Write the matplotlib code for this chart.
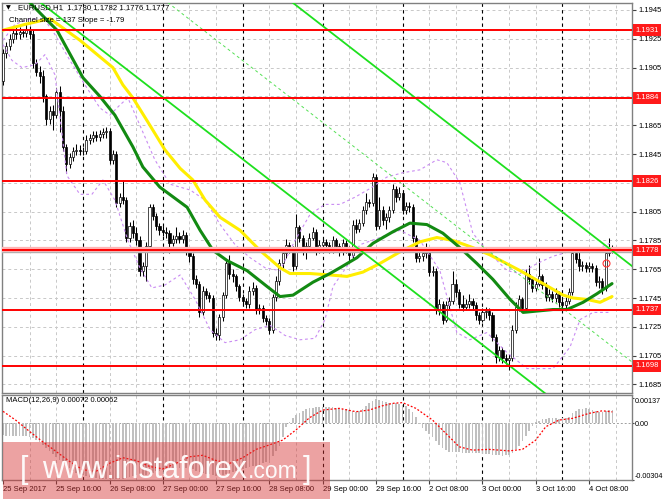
import matplotlib
matplotlib.use("Agg")
import matplotlib.pyplot as plt
from matplotlib.patches import Rectangle
import matplotlib.transforms as mtransforms

plt.rcParams['font.family'] = ['Liberation Sans', 'DejaVu Sans']

# ---- hourly candles, EURUSD H1, bar 0 = 25 Sep 00:00 ----
first_open = 1.1896
closes = [
    1.1915, 1.1920, 1.1925, 1.1929, 1.1928, 1.1930, 1.1929, 1.1931, 1.1928, 1.1908,
    1.1902, 1.1899, 1.1885, 1.1869, 1.1875, 1.1872, 1.1888, 1.1875, 1.1850, 1.1838,
    1.1843, 1.1847, 1.1848, 1.1847, 1.1847, 1.1855, 1.1856, 1.1858, 1.1857, 1.1859,
    1.1860, 1.1861, 1.1841, 1.1845, 1.1811, 1.1815, 1.1813, 1.1787, 1.1795, 1.1790,
    1.1785, 1.1764, 1.1767, 1.1781, 1.1808, 1.1802, 1.1795, 1.1792, 1.1791, 1.1790,
    1.1783, 1.1786, 1.1788, 1.1786, 1.1789, 1.1778, 1.1774, 1.1758, 1.1755, 1.1735,
    1.1750, 1.1747, 1.1745, 1.1721, 1.1719, 1.1732, 1.1747, 1.1769, 1.1762, 1.1760,
    1.1753, 1.1746, 1.1743, 1.1741, 1.1750, 1.1752, 1.1737, 1.1738, 1.1731, 1.1729,
    1.1723, 1.1746, 1.1757, 1.1769, 1.1776, 1.1782, 1.1779, 1.1767, 1.1794, 1.1787,
    1.1778, 1.1781, 1.1787, 1.1791, 1.1778, 1.1782, 1.1784, 1.1782, 1.1779, 1.1785,
    1.1781, 1.1777, 1.1783, 1.1779, 1.1775, 1.1796, 1.1793, 1.1797, 1.1806, 1.1812,
    1.1811, 1.1829, 1.1795, 1.1806, 1.1799, 1.1801, 1.1806, 1.1821, 1.1815, 1.1818,
    1.1806, 1.1809, 1.1808, 1.1787, 1.1773, 1.1774, 1.1776, 1.1777, 1.1763, 1.1764,
    1.1737, 1.1741, 1.1730, 1.1740, 1.1743, 1.1755, 1.1749, 1.1741, 1.1739, 1.1741,
    1.1743, 1.1740, 1.1733, 1.1730, 1.1735, 1.1736, 1.1733, 1.1718, 1.1704, 1.1709,
    1.1703, 1.1702, 1.1703, 1.1723, 1.1739, 1.1744, 1.1738, 1.1762, 1.1758, 1.1752,
    1.1755, 1.1760, 1.1754, 1.1746, 1.1748, 1.1745, 1.1748, 1.1742, 1.1740, 1.1743,
    1.1749, 1.1776, 1.1772, 1.1767, 1.1768, 1.1766, 1.1767, 1.1766, 1.1756, 1.1757,
    1.1752, 1.1776, 1.1780, 1.1777,
]
highs = [
    1.1918, 1.1923, 1.1928, 1.1932, 1.1933, 1.1933, 1.1932, 1.1936, 1.1934, 1.1931,
    1.1911, 1.1906, 1.1903, 1.1887, 1.1878, 1.1879, 1.1891, 1.1892, 1.1878, 1.1852,
    1.1846, 1.1850, 1.1852, 1.1851, 1.1850, 1.1858, 1.1859, 1.1861, 1.1861, 1.1862,
    1.1863, 1.1864, 1.1863, 1.1848, 1.1847, 1.1818, 1.1827, 1.1815, 1.1798, 1.1799,
    1.1794, 1.1788, 1.1770, 1.1784, 1.1810, 1.1810, 1.1804, 1.1797, 1.1795, 1.1794,
    1.1792, 1.1789, 1.1794, 1.1791, 1.1792, 1.1791, 1.1780, 1.1776, 1.1761, 1.1757,
    1.1753, 1.1752, 1.1749, 1.1747, 1.1724, 1.1734, 1.1749, 1.1772, 1.1775, 1.1765,
    1.1762, 1.1755, 1.1748, 1.1745, 1.1753, 1.1756, 1.1754, 1.1741, 1.1740, 1.1733,
    1.1731, 1.1748, 1.1760, 1.1772, 1.1779, 1.1786, 1.1784, 1.1781, 1.1803, 1.1796,
    1.1789, 1.1784, 1.1790, 1.1794, 1.1793, 1.1785, 1.1787, 1.1786, 1.1784, 1.1788,
    1.1787, 1.1783, 1.1786, 1.1785, 1.1781, 1.1799, 1.1800, 1.1800, 1.1809, 1.1818,
    1.1814, 1.1832, 1.1831, 1.1815, 1.1809, 1.1804, 1.1809, 1.1824, 1.1823, 1.1822,
    1.1820, 1.1812, 1.1812, 1.1810, 1.1789, 1.1777, 1.1779, 1.1783, 1.1779, 1.1767,
    1.1766, 1.1744, 1.1743, 1.1743, 1.1746, 1.1764, 1.1758, 1.1751, 1.1747, 1.1744,
    1.1748, 1.1745, 1.1742, 1.1735, 1.1738, 1.1739, 1.1738, 1.1735, 1.1720, 1.1712,
    1.1711, 1.1706, 1.1706, 1.1726, 1.1742, 1.1747, 1.1746, 1.1765, 1.1768, 1.1760,
    1.1758, 1.1773, 1.1762, 1.1756, 1.1751, 1.1750, 1.1752, 1.1750, 1.1744, 1.1746,
    1.1752, 1.1779, 1.1779, 1.1779, 1.1771, 1.1770, 1.1770, 1.1769, 1.1768, 1.1760,
    1.1759, 1.1779, 1.1787, 1.1782,
]
lows = [
    1.1893, 1.1912, 1.1917, 1.1922, 1.1925, 1.1925, 1.1926, 1.1926, 1.1925, 1.1905,
    1.1899, 1.1894, 1.1881, 1.1865, 1.1866, 1.1862, 1.1870, 1.1860, 1.1847, 1.1832,
    1.1835, 1.1840, 1.1844, 1.1844, 1.1844, 1.1845, 1.1852, 1.1853, 1.1854, 1.1854,
    1.1856, 1.1856, 1.1838, 1.1838, 1.1808, 1.1808, 1.1810, 1.1784, 1.1784, 1.1787,
    1.1782, 1.1760, 1.1760, 1.1757, 1.1779, 1.1799, 1.1792, 1.1789, 1.1788, 1.1787,
    1.1776, 1.1781, 1.1783, 1.1783, 1.1783, 1.1775, 1.1770, 1.1755, 1.1752, 1.1732,
    1.1733, 1.1744, 1.1742, 1.1718, 1.1716, 1.1716, 1.1729, 1.1745, 1.1758, 1.1756,
    1.1750, 1.1743, 1.1740, 1.1738, 1.1738, 1.1747, 1.1734, 1.1734, 1.1728, 1.1726,
    1.1720, 1.1721, 1.1743, 1.1754, 1.1766, 1.1773, 1.1776, 1.1764, 1.1765, 1.1784,
    1.1775, 1.1772, 1.1779, 1.1785, 1.1775, 1.1776, 1.1780, 1.1779, 1.1776, 1.1776,
    1.1778, 1.1774, 1.1775, 1.1776, 1.1771, 1.1773, 1.1790, 1.1791, 1.1795, 1.1803,
    1.1808, 1.1809, 1.1792, 1.1793, 1.1796, 1.1793, 1.1798, 1.1804, 1.1812, 1.1813,
    1.1803, 1.1803, 1.1805, 1.1784, 1.1770, 1.1770, 1.1771, 1.1773, 1.1760, 1.1760,
    1.1734, 1.1733, 1.1727, 1.1728, 1.1737, 1.1741, 1.1746, 1.1738, 1.1736, 1.1737,
    1.1738, 1.1737, 1.1730, 1.1727, 1.1728, 1.1731, 1.1730, 1.1715, 1.1700, 1.1701,
    1.1700, 1.1699, 1.1695, 1.1701, 1.1721, 1.1736, 1.1735, 1.1736, 1.1755, 1.1749,
    1.1750, 1.1753, 1.1751, 1.1743, 1.1743, 1.1742, 1.1742, 1.1739, 1.1737, 1.1737,
    1.1741, 1.1747, 1.1769, 1.1764, 1.1764, 1.1763, 1.1763, 1.1763, 1.1753, 1.1752,
    1.1748, 1.1750, 1.1774, 1.1776,
]

# ---- MACD(12,26,9): histogram per bar (x1e-5) and signal points ----
macd_e5 = [
    -65, -66, -67, -68, -68, -68, -69, -70, -72, -80,
    -90, -100, -115, -135, -150, -165, -180, -195, -210, -225,
    -240, -255, -265, -272, -278, -283, -288, -292, -295, -298,
    -300, -302, -300, -298, -300, -302, -300, -295, -290, -285,
    -280, -278, -282, -280, -272, -265, -258, -255, -252, -250,
    -248, -245, -243, -242, -240, -240, -242, -248, -255, -262,
    -268, -272, -275, -280, -285, -285, -280, -272, -265, -260,
    -255, -250, -245, -240, -235, -230, -228, -222, -216, -210,
    -195, -175, -150, -120, -72, -18, 9, 30, 45, 55,
    65, 75, 81, 85, 88, 90, 90, 88, 86, 86,
    85, 83, 80, 76, 70, 66, 63, 66, 80, 95,
    108, 120, 130, 125, 118, 115, 112, 110, 108, 105,
    100, 95, 80, 60, 35, -5, -25, -40, -55, -72,
    -95, -115, -130, -145, -153, -155, -155, -156, -157, -158,
    -158, -158, -160, -162, -163, -165, -166, -168, -170, -172,
    -173, -172, -170, -160, -140, -120, -95, -70, -40, -15,
    5, 15, 22, 26, 27, 28, 27, 26, 27, 30,
    36, 55, 65, 75, 80, 85, 80, 72, 65, 60,
    62, 66, 70, 72,
]
signal_bars = [0, 4, 8, 12, 16, 20, 24, 28, 32, 36, 40, 44, 48, 52, 56, 60, 64, 68,
               72, 76, 80, 84, 88, 92, 96, 101, 106, 110, 114, 117, 120, 124, 129,
               133, 137, 141, 146, 152, 156, 160, 163, 167, 171, 176, 180, 183]
signal_e5 = [65, 15, -44, -100, -152, -205, -250, -258, -215, -185, -200, -232, -245,
             -215, -180, -172, -200, -216, -185, -140, -116, -90, -35, 30, 72, 81, 63,
             72, 95, 108, 112, 81, 18, -54, -126, -144, -140, -148, -140, -90, -18,
             18, 27, 54, 68, 62]

# ---- moving averages (bar, price) ----
ma_slow_bars = [0, 6.6, 14.1, 23.1, 33, 36, 39, 44.1, 48.6, 53.2, 57, 60.7, 65.2, 71.2,
                77.2, 83.2, 86.2, 92.2, 98.2, 103.3, 108.1, 113.2, 119.2, 125.2, 130.3,
                135.1, 141.1, 146.2, 155.3, 162.2, 168.2, 171.2, 175.4, 179.3, 182.9]
ma_slow = [1.1931, 1.1935, 1.1939, 1.1924, 1.1905, 1.1893, 1.1884, 1.1865, 1.1848,
           1.1835, 1.1827, 1.1813, 1.1801, 1.1792, 1.1778, 1.1766, 1.1762, 1.1762,
           1.1761, 1.1760, 1.1763, 1.1769, 1.1777, 1.1784, 1.1787, 1.1785, 1.1780,
           1.1775, 1.1764, 1.1755, 1.1747, 1.1745, 1.1744, 1.1742, 1.1746]
ma_fast_bars = [8.1, 16.2, 24, 29.1, 33.6, 39, 42, 47.1, 55.3, 59.2, 63.1, 67.3, 73.3,
                79.3, 83.2, 87.1, 93.1, 98.2, 101.2, 106.3, 111.1, 117.1, 122.2, 127.3,
                132.1, 137.2, 142.3, 147.1, 152.3, 156.2, 165.2, 169.4, 174.2, 178.4, 182.9]
ma_fast = [1.1950, 1.1931, 1.1898, 1.1885, 1.1872, 1.1850, 1.1836, 1.1822, 1.1808,
           1.1792, 1.1778, 1.1771, 1.1764, 1.1753, 1.1746, 1.1747, 1.1756, 1.1762,
           1.1766, 1.1773, 1.1783, 1.1791, 1.1797, 1.1796, 1.1790, 1.1780, 1.1769,
           1.1758, 1.1744, 1.1735, 1.1737, 1.1737, 1.1742, 1.1748, 1.1755]

# ---- bands (purple dashed) ----
band_up_bars = [0, 3.6, 8.1, 12.6, 15.6, 20.1, 24.6, 29.1, 32.1, 35.1, 37.5, 41.1, 45.6,
                50.2, 56.2, 60.7, 65.2, 69.7, 74.2, 78.7, 83.2, 87.7, 92.2, 96.7, 101.2,
                105.7, 110.2, 115.3, 120.1, 125.2, 130.3, 133.3, 137.2, 141.1, 145.3,
                151.4, 155.3, 160.4, 165.2, 171.2, 177.2, 182.3]
band_up = [1.1924, 1.1935, 1.1939, 1.1938, 1.1928, 1.1910, 1.1893, 1.1877, 1.1872,
           1.1879, 1.1884, 1.1865, 1.1841, 1.1824, 1.1820, 1.1813, 1.1796, 1.1782,
           1.1773, 1.1766, 1.1764, 1.1785, 1.1803, 1.1810, 1.1810, 1.1815, 1.1821,
           1.1829, 1.1832, 1.1834, 1.1841, 1.1839, 1.1825, 1.1790, 1.1778, 1.1764,
           1.1762, 1.1769, 1.1774, 1.1778, 1.1778, 1.1783]
band_dn_bars = [0, 2.7, 5.7, 9.6, 12.6, 15.6, 19.2, 23.1, 26.7, 30, 33.6, 37.5, 41.1,
                44.7, 48.6, 53.2, 57.7, 62.2, 66.7, 71.2, 75.7, 80.2, 84.7, 89.2, 93.7,
                96.7, 99.1, 103.3, 107.2, 113.2, 119.2, 125.2, 131.2, 136.3, 140.2,
                145.3, 151.4, 157.4, 165.2, 170.3, 173.3, 177.2, 182.3]
band_dn = [1.1921, 1.1910, 1.1905, 1.1907, 1.1914, 1.1900, 1.1830, 1.1817, 1.1817,
           1.1827, 1.1813, 1.1785, 1.1766, 1.1752, 1.1754, 1.1761, 1.1744, 1.1723,
           1.1714, 1.1716, 1.1723, 1.1726, 1.1719, 1.1716, 1.1717, 1.1730, 1.1753,
           1.1767, 1.1782, 1.1787, 1.1792, 1.1785, 1.1764, 1.1721, 1.1716, 1.1721,
           1.1707, 1.1696, 1.1696, 1.1711, 1.1730, 1.1735, 1.1735]

# ---- equidistant channel (137 pips, slope -1.79) ----
ch_upper_x = [85.6, 189.0]
ch_upper_y = [1.19526, 1.17670]
ch_lower_x = [8.0, 189.0]
ch_lower_y = [1.19560, 1.16319]
ch_mid_x = [45.0, 189.0]
ch_mid_y = [1.19582, 1.17004]

levels = [1.1931, 1.1884, 1.1826, 1.1778, 1.1737, 1.1698]
price_ticks = [1.1945, 1.1925, 1.1905, 1.1865, 1.1845, 1.1805, 1.1785, 1.1765,
               1.1745, 1.1725, 1.1705, 1.1685]
grid_prices = [1.1945 - 0.002 * k for k in range(14)]
date_ticks = [0, 16, 32, 48, 64, 80, 96, 112, 128, 144, 160, 176]
date_labels = ['25 Sep 2017', '25 Sep 16:00', '26 Sep 08:00', '27 Sep 00:00',
               '27 Sep 16:00', '28 Sep 08:00', '29 Sep 00:00', '29 Sep 16:00',
               '2 Oct 08:00', '3 Oct 00:00', '3 Oct 16:00', '4 Oct 08:00']
day_starts = [24, 48, 72, 96, 120, 144, 168]

W, H = 665, 499
fig = plt.figure(figsize=(W / 100, H / 100), dpi=100)
ax = fig.add_axes([2 / W, 1 - 393 / H, 630 / W, 390 / H])
axm = fig.add_axes([2 / W, 1 - 480 / H, 630 / W, 85 / H])

n = len(closes)
idx = list(range(n))
opens = [first_open] + closes[:-1]
xlim = (-0.3, 188.9)

grid_kw = dict(color='#c8c8c8', lw=0.7, ls=(0, (3, 3)), zorder=0)
sep_kw = dict(color='black', lw=0.8, ls=(0, (3, 3)), zorder=0.5)
for a in (ax, axm):
    for k in range(1, 24):
        if k * 8 in day_starts:
            a.axvline(k * 8, **sep_kw)
        else:
            a.axvline(k * 8, **grid_kw)
    for s in a.spines.values():
        s.set_color('#808080')
        s.set_linewidth(1)
    a.set_xlim(*xlim)

for p in grid_prices:
    ax.axhline(p, **grid_kw)

# candles
ax.vlines(idx, lows, highs, color='black', lw=0.75, zorder=3)
bottoms = [min(o, c) for o, c in zip(opens, closes)]
heights = [max(abs(c - o), 0.00002) for o, c in zip(opens, closes)]
colors = ['white' if c >= o else 'black' for o, c in zip(opens, closes)]
ax.bar(idx, heights, bottom=bottoms, width=0.62, color=colors,
       edgecolor='black', linewidth=0.5, zorder=4)

# bands and MAs
band_kw = dict(color='#c98cf2', lw=0.8, ls=(0, (2.5, 2.5)), zorder=4.5)
ax.plot(band_up_bars, band_up, **band_kw)
ax.plot(band_dn_bars, band_dn, **band_kw)
ax.plot(ma_slow_bars, ma_slow, color='#ffee00', lw=2.2, zorder=5,
        solid_capstyle='round')
ax.plot(ma_fast_bars, ma_fast, color='#128a12', lw=2.2, zorder=5.1,
        solid_capstyle='round')

# channel
ax.plot(ch_upper_x, ch_upper_y, color='#1ee01e', lw=1.3, zorder=6)
ax.plot(ch_lower_x, ch_lower_y, color='#1ee01e', lw=1.3, zorder=6)
ax.plot(ch_mid_x, ch_mid_y, color='#55e055', lw=0.7, ls=(0, (3, 3)), zorder=6)

# horizontal levels
blend = mtransforms.blended_transform_factory(ax.transAxes, ax.transData)
for lv in levels:
    if lv == 1.1778:
        ax.axhline(lv, color='#ffb4b4', lw=4.5, zorder=5.8)
        ax.axhline(1.1777, color='#b0b0b0', lw=0.9, zorder=5.9)
    ax.axhline(lv, color='#ff0000', lw=1.4, zorder=6.1)
    ax.text(1.0 + 3 / 630, lv, f'{lv:.4f}', transform=blend, ha='left', va='center',
            color='white', fontsize=5.5, zorder=10, clip_on=False,
            bbox=dict(boxstyle='square,pad=0.32', fc='#ff1a1a', ec='none'))

ax.plot([181], [1.1769], marker='o', ms=5, mfc='none', mec='#ff3030', mew=0.8,
        zorder=7)

ax.set_ylim(1.167903, 1.194986)
ax.yaxis.tick_right()
ax.set_yticks(price_ticks)
ax.set_yticklabels([f'{p:.4f}' for p in price_ticks])
ax.set_xticks([])
ax.tick_params(axis='y', direction='out', length=3, width=0.8, color='#404040',
               labelsize=5.5, pad=1.5)

# MACD panel
macd = [v * 1e-5 for v in macd_e5]
signal = [v * 1e-5 for v in signal_e5]
axm.bar(idx, macd, width=0.5, color='#c0c0c0', zorder=2)
axm.axhline(0, color='#a0a0a0', lw=0.7, ls=(0, (2, 2)), zorder=1)
axm.plot(signal_bars, signal, color='#ff0000', lw=0.9, ls=(0, (1.5, 1.5)), zorder=3)
axm.set_ylim(-0.00305, 0.00153)
axm.yaxis.tick_right()
axm.set_yticks([0.00137, 0.0, -0.00304])
axm.set_yticklabels(['0.00137', '0.00', '-0.00304'])
ylabs = axm.get_yticklabels()
ylabs[0].set_va('top')
ylabs[2].set_va('bottom')
axm.tick_params(axis='y', direction='out', length=1.5, width=0.8, color='#404040',
                labelsize=5.2, pad=0.6)
axm.set_xticks(date_ticks)
axm.set_xticklabels(date_labels, ha='left')
axm.tick_params(axis='x', direction='out', length=3, width=0.8, color='#404040',
                labelsize=5.5, pad=1.5)

# header texts
fig.text(6 / W, 1 - 8 / H, '\u25bc', fontsize=4.5, va='center', ha='left',
         family=['DejaVu Sans'])
fig.text(18 / W, 1 - 8 / H, 'EURUSD,H1  1.1780 1.1782 1.1776 1.1777',
         fontsize=5.6, va='center', ha='left')
fig.text(9 / W, 1 - 20 / H, 'Channel size = 137 Slope = -1.79',
         fontsize=5.6, va='center', ha='left', zorder=10)
fig.text(6 / W, 1 - 401 / H, 'MACD(12,26,9) 0.00072 0.00062',
         fontsize=5.5, va='center', ha='left')

# watermark
fig.patches.append(Rectangle((3 / W, 0), 327 / W, 57 / H, transform=fig.transFigure,
                             facecolor='#d73232', alpha=0.45, edgecolor='none',
                             zorder=20))
wm = dict(color='white', va='baseline', ha='left', zorder=21, alpha=0.95)
fig.text(20 / W, 1 - 478 / H, '[', fontsize=22, **wm)
fig.text(42 / W, 1 - 478 / H, 'www.instaforex', fontsize=22, **wm)
fig.text(248 / W, 1 - 478 / H, '.com', fontsize=16.5, **wm)
fig.text(303 / W, 1 - 478 / H, ']', fontsize=22, **wm)

fig.savefig('out.png', dpi=100, facecolor='white')
